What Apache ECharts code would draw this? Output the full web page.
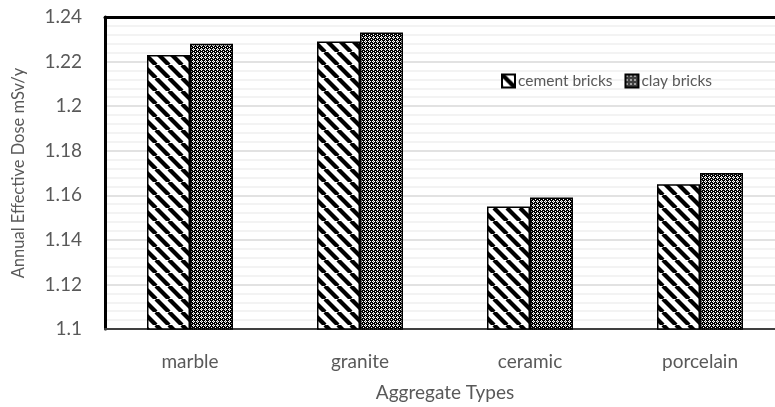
<!DOCTYPE html>
<html><head><meta charset="utf-8">
<script src="https://cdn.jsdelivr.net/npm/echarts@6/dist/echarts.min.js"></script>
<style>html,body{margin:0;padding:0;background:#fff}#c{width:775px;height:407px}</style>
</head><body><div id="c"></div>
<script>
const categories = ['marble', 'granite', 'ceramic', 'porcelain'];
const cementBricks = [1.223, 1.229, 1.155, 1.165];
const clayBricks = [1.228, 1.233, 1.159, 1.170];
const seriesNames = ['cement bricks', 'clay bricks'];

function stripePattern() {
  const s = 13, c = document.createElement('canvas');
  c.width = s; c.height = s;
  const g = c.getContext('2d');
  g.fillStyle = '#fff'; g.fillRect(0, 0, s, s);
  g.strokeStyle = '#000'; g.lineWidth = 4.3;
  for (const o of [-s, 0, s]) {
    g.beginPath(); g.moveTo(o, 0); g.lineTo(o + s, s); g.stroke();
  }
  return c;
}
function dotPattern() {
  const s = 4, c = document.createElement('canvas');
  c.width = s; c.height = s;
  const g = c.getContext('2d');
  g.fillStyle = '#000'; g.fillRect(0, 0, s, s);
  g.fillStyle = '#fff';
  g.fillRect(1, 0, 1, 1); g.fillRect(0, 1, 1, 1); g.fillRect(2, 1, 1, 1); g.fillRect(1, 2, 1, 1);
  g.fillRect(3, 3, 1, 1);
  g.fillStyle = '#888';
  g.fillRect(1, 1, 1, 1);
  return c;
}
const font = 'Lato, "Open Sans", sans-serif';
const chart = echarts.init(document.getElementById('c'), null, {renderer: 'canvas'});
chart.setOption({
  animation: false,
  grid: {left: 105, top: 17, width: 680, height: 312, show: false, containLabel: false, outerBoundsMode: 'none'},
  legend: {
    left: 501, top: 73, padding: 0, itemWidth: 13, itemHeight: 13, itemGap: 12, icon: 'rect',
    textStyle: {color: '#595959', fontSize: 15.5, fontFamily: font, padding: [0, 0, 0, -2]},
    data: seriesNames
  },
  xAxis: [{
    type: 'category', data: categories,
    axisLine: {show: true, lineStyle: {color: '#404040', width: 2}},
    axisTick: {show: false},
    axisLabel: {color: '#595959', fontSize: 19, fontFamily: font, margin: 23},
    name: 'Aggregate Types', nameLocation: 'middle', nameGap: 54,
    nameTextStyle: {color: '#595959', fontSize: 19, fontFamily: font}
  }, {
    type: 'category', data: categories, position: 'top',
    axisLine: {show: true, lineStyle: {color: '#000', width: 3}},
    axisTick: {show: false}, axisLabel: {show: false}
  }],
  yAxis: {
    type: 'value', min: 1.1, max: 1.24, interval: 0.02,
    axisLine: {show: true, lineStyle: {color: '#000', width: 3}}, axisTick: {show: false},
    axisLabel: {color: '#595959', fontSize: 19, fontFamily: font, margin: 23,
      formatter: v => String(parseFloat(v.toFixed(2)))},
    splitLine: {lineStyle: {color: '#d9d9d9', width: 1.5}},
    minorTick: {show: false, splitNumber: 5},
    minorSplitLine: {show: true, lineStyle: {color: '#f0f0f0', width: 1.5}},
    name: 'Annual Effective Dose mSv/y', nameLocation: 'middle', nameGap: 78,
    nameTextStyle: {color: '#595959', fontSize: 16.5, fontFamily: font}
  },
  series: [
    {name: seriesNames[0], type: 'bar', data: cementBricks, barWidth: 43, barGap: '0%',
     itemStyle: {color: {image: stripePattern(), repeat: 'repeat'}, borderColor: '#000', borderWidth: 1.5}},
    {name: seriesNames[1], type: 'bar', data: clayBricks, barWidth: 43,
     itemStyle: {color: {image: dotPattern(), repeat: 'repeat'}, borderColor: '#000', borderWidth: 1.5}}
  ]
});
</script></body></html>
